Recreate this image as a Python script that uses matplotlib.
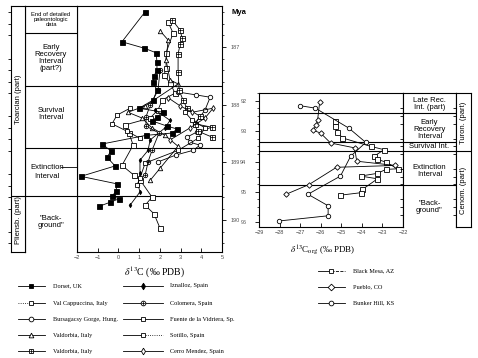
# Carbon isotope curves across two extinction events (Toarcian / Cenomanian-Turonian)
import numpy as np
import matplotlib
matplotlib.use('Agg')
import matplotlib.pyplot as plt
from matplotlib.ticker import MultipleLocator

plt.rcParams['font.family'] = 'Liberation Sans'
plt.rcParams['mathtext.fontset'] = 'stix'

# ---- left panel data: d13C carb (permil) vs age (Mya) ----
dorset_d13c = [1.29, 0.17, 1.24, 1.82, 1.86, 1.86, 1.72, 1.67, 1.86, 1.67, 1.00, 2.15, 1.86, 1.62,
               2.35, 2.83, 2.59, 1.33, -0.79, -0.36, -0.55, -0.16, -1.81, -0.07, -0.12, -0.30,
               0.02, -0.41, -0.94]
dorset_age = [186.39, 186.91, 187.02, 187.10, 187.26, 187.40, 187.50, 187.61, 187.75, 187.92, 188.06,
              188.13, 188.21, 188.28, 188.37, 188.42, 188.49, 188.53, 188.68, 188.80, 188.91, 189.06,
              189.24, 189.37, 189.50, 189.58, 189.63, 189.69, 189.76]

valcap_d13c = [2.40, 2.64, 2.30, 2.30, 2.20, 2.49, 2.73, 2.11, 1.91, 1.53, 0.32, 0.51, 0.71, 0.17,
               0.75, 1.04, 1.62, 1.29, 1.72, 2.01]
valcap_age = [186.57, 186.76, 187.10, 187.36, 187.49, 187.62, 187.80, 187.92, 188.09, 188.23, 188.35,
              188.49, 188.70, 189.05, 189.22, 189.30, 189.60, 189.74, 189.89, 190.14]

bursa_d13c = [2.88, 3.75, 4.43, 4.18, 3.94, 3.70, 3.80, 3.31, 3.46, 3.94, 3.60, 2.78, 1.91]
bursa_age = [187.78, 187.83, 187.87, 188.09, 188.21, 188.32, 188.47, 188.56, 188.65, 188.70, 188.79,
             188.87, 188.99]

valdtri_d13c = [2.01, 2.40, 2.30, 2.49, 2.88, 1.29, 0.46, 1.14, 1.62, 2.25, 2.88, 2.01, 1.53]
valdtri_age = [186.72, 186.88, 187.23, 187.57, 187.64, 188.02, 188.13, 188.23, 188.40, 188.53, 188.72,
               189.10, 189.31]

valdsq_d13c = [2.59, 2.98, 3.07, 2.98, 2.88, 2.88, 2.93, 3.12, 3.31, 3.94, 3.70, 4.52, 3.85, 4.52]
valdsq_age = [186.53, 186.71, 186.84, 186.95, 187.12, 187.43, 187.75, 187.92, 188.06, 188.20, 188.33,
              188.39, 188.46, 188.56]

iznal_d13c = [1.77, 2.49, 2.25, 1.53, 1.43, 1.04, 1.04, 0.95, 1.04, 0.56]
iznal_age = [188.09, 188.27, 188.40, 188.61, 188.79, 188.96, 189.18, 189.39, 189.51, 189.74]

colom_d13c = [2.01, 1.91, 1.53, 1.33, 1.33, 1.96, 1.62, 1.43, 1.29]
colom_age = [187.40, 187.75, 188.01, 188.21, 188.37, 188.49, 188.79, 188.99, 189.22]

fuente_d13c = [3.22, 3.56, 4.18, 3.85, 2.88, 1.29, 1.04, 0.90]
fuente_age = [188.13, 188.27, 188.40, 188.58, 188.79, 189.01, 189.27, 189.39]

sotillo_d13c = [0.56, -0.07, -0.31, 0.42, 1.04]
sotillo_age = [188.06, 188.18, 188.33, 188.46, 188.58]

cerro_d13c = [2.40, 2.98, 3.56, 4.57, 4.18, 3.46, 2.49]
cerro_age = [187.88, 188.02, 188.13, 188.06, 188.23, 188.40, 188.61]

# ---- right panel data: d13C org vs age ----
mesa_d13c = [-25.31, -25.31, -25.20, -24.95, -23.57, -22.92, -23.41, -23.24, -22.83, -22.26, -22.83,
             -23.24, -24.06, -23.24, -23.97, -24.06, -25.04]
mesa_age = [92.68, 92.84, 93.01, 93.22, 93.50, 93.61, 93.83, 93.93, 94.02, 94.24, 94.26, 94.39, 94.48,
            94.57, 94.92, 95.03, 95.11]

pueblo_d13c = [-26.05, -26.15, -26.21, -26.37, -26.01, -25.52, -24.35, -24.25, -22.38, -25.23,
               -26.57, -27.68]
pueblo_age = [92.04, 92.62, 92.79, 92.97, 93.06, 93.39, 93.55, 93.99, 94.13, 94.19, 94.76, 95.08]

bunker_d13c = [-26.99, -26.26, -24.63, -23.81, -24.55, -25.04, -26.62, -25.64, -25.64, -28.01]
bunker_age = [92.16, 92.24, 92.90, 93.37, 93.83, 94.48, 95.08, 95.46, 95.79, 95.96]

# interval boundaries (Mya)
left_bounds = [186.76, 187.68, 188.75, 189.58]
right_bounds = [92.39, 93.34, 93.64, 94.79]

W, H = 478, 358
fig = plt.figure(figsize=(W / 100, H / 100), dpi=100)


def px_axes(x0, y0, x1, y1, **kw):
    return fig.add_axes([x0 / W, 1 - y1 / H, (x1 - x0) / W, (y1 - y0) / H], **kw)


def draw_series(ax, xs, ys, marker, mfc='white', cross=False, ms=3.6, ls='-'):
    ax.plot(xs, ys, color='black', lw=0.6, ls=ls, marker=marker, ms=ms, mfc=mfc,
            mec='black', mew=0.6, zorder=3)
    if cross:
        ax.plot(xs, ys, ls='none', marker='+', ms=ms, color='black', mew=0.5, zorder=4)


def strip_axes(ax):
    ax.set_xticks([])
    ax.tick_params(left=False, right=False, labelleft=False, labelright=False)
    for s in ax.spines.values():
        s.set_linewidth(0.8)


lab_kw = dict(ha='center', va='center', fontsize=5.5, linespacing=1.05)

# ================= LEFT PANEL =================
axL = px_axes(77, 6, 222, 252)
axL.set_xlim(-2, 5)
axL.set_ylim(190.55, 186.29)
draw_series(axL, valcap_d13c, valcap_age, 's')
draw_series(axL, bursa_d13c, bursa_age, 'o', ms=3.2)
draw_series(axL, valdtri_d13c, valdtri_age, '^', ms=3.2)
draw_series(axL, valdsq_d13c, valdsq_age, 's', cross=True)
draw_series(axL, iznal_d13c, iznal_age, 'd', mfc='black', ms=2.2)
draw_series(axL, colom_d13c, colom_age, 'o', cross=True, ms=3.2)
draw_series(axL, fuente_d13c, fuente_age, 's', ms=3.2)
draw_series(axL, sotillo_d13c, sotillo_age, 's', ms=3.2)
draw_series(axL, cerro_d13c, cerro_age, 'd', ms=3.0)
draw_series(axL, dorset_d13c, dorset_age, 's', mfc='black')
for b in left_bounds[1:]:
    axL.axhline(b, color='black', lw=0.8, zorder=2)
axL.set_xticks(range(-2, 6))
axL.tick_params(axis='x', direction='in', length=3, width=0.6, labelsize=4, pad=2,
                labelcolor='#444')
axL.yaxis.tick_right()
axL.set_yticks([187, 188, 189, 190])
axL.yaxis.set_minor_locator(MultipleLocator(0.2))
axL.tick_params(axis='y', which='major', direction='out', length=3, width=0.6, labelsize=4,
                labelcolor='#555', pad=3)
axL.tick_params(axis='y', which='minor', direction='out', length=1.5, width=0.5)
for s in axL.spines.values():
    s.set_linewidth(0.8)

# label column
labL = px_axes(25, 6, 77, 252, sharey=axL)
strip_axes(labL)
labL.spines['bottom'].set_visible(False)
tr = labL.get_yaxis_transform()
for b in left_bounds:
    labL.axhline(b, color='black', lw=0.8)
labL.text(0.5, 186.53, 'End of detailed\npaleontologic\ndata', transform=tr, ha='center',
          va='center', fontsize=4.2, linespacing=1.0)
labL.text(0.5, 187.19, 'Early\nRecovery\nInterval\n(part?)', transform=tr, **lab_kw)
labL.text(0.5, 188.16, 'Survival\nInterval', transform=tr, **lab_kw)
labL.text(0.43, 189.08, 'Extinction', transform=tr, **lab_kw)
labL.text(0.43, 189.24, 'Interval', transform=tr, **lab_kw)
labL.plot([0.70, 1.0], [189.08, 189.08], transform=tr, color='black', lw=0.6)
labL.text(0.5, 190.03, '"Back-\nground"', transform=tr, **lab_kw)

# stratigraphic column
strL = px_axes(11, 6, 25, 252, sharey=axL)
strip_axes(strL)
strL.axhline(left_bounds[3], color='black', lw=0.8)
trs = strL.get_yaxis_transform()
strL.text(0.5, 187.90, 'Toarcian (part)', transform=trs, rotation=90, ha='center', va='center',
          fontsize=5.5)
strL.text(0.5, 190.00, 'Pliensb. (part)', transform=trs, rotation=90, ha='center', va='center',
          fontsize=5.5)

# ================= RIGHT PANEL =================
axR = px_axes(259, 93, 403, 227)
axR.set_xlim(-29, -22)
axR.set_ylim(96.16, 91.74)
draw_series(axR, mesa_d13c, mesa_age, 's')
draw_series(axR, pueblo_d13c, pueblo_age, 'D', ms=2.8)
draw_series(axR, bunker_d13c, bunker_age, 'o', ms=3.2)
for b in right_bounds:
    axR.axhline(b, color='black', lw=0.8, zorder=2)
axR.set_xticks(range(-29, -21))
axR.tick_params(axis='x', direction='in', length=3, width=0.6, labelsize=4, pad=2,
                labelcolor='#444')
axR.set_yticks([92, 93, 94, 95, 96])
axR.yaxis.set_minor_locator(MultipleLocator(0.25))
axR.tick_params(axis='y', which='major', direction='out', length=3, width=0.6, labelsize=4,
                labelcolor='#555', pad=6)
axR.tick_params(axis='y', which='minor', direction='out', length=1.5, width=0.5)
for s in axR.spines.values():
    s.set_linewidth(0.8)

labR = px_axes(403, 93, 456, 227, sharey=axR)
strip_axes(labR)
labR.spines['bottom'].set_visible(False)
trr = labR.get_yaxis_transform()
for b in right_bounds:
    labR.axhline(b, color='black', lw=0.8)
labR.text(0.5, 92.11, 'Late Rec.\nInt. (part)', transform=trr, **lab_kw)
labR.text(0.5, 92.95, 'Early\nRecovery\nInterval', transform=trr, **lab_kw)
labR.text(0.5, 93.50, 'Survival Int.', transform=trr, **lab_kw)
labR.text(0.5, 94.31, 'Extinction\nInterval', transform=trr, **lab_kw)
labR.text(0.5, 95.49, '"Back-\nground"', transform=trr, **lab_kw)

strR = px_axes(456, 93, 471, 227, sharey=axR)
strip_axes(strR)
strR.axhline(right_bounds[2], color='black', lw=0.8)
trs2 = strR.get_yaxis_transform()
strR.text(0.5, 92.72, 'Turon. (part)', transform=trs2, rotation=90, ha='center', va='center',
          fontsize=5.5)
strR.text(0.5, 94.95, 'Cenom. (part)', transform=trs2, rotation=90, ha='center', va='center',
          fontsize=5.5)

# ================= overlay: labels and legend =================
ov = fig.add_axes([0, 0, 1, 1], zorder=-1)
ov.set_xlim(0, W)
ov.set_ylim(H, 0)
ov.axis('off')
ov.text(232, 12, 'Mya', fontsize=5.5, fontweight='bold', ha='left', va='center')
ov.text(155, 272, r'$\delta^{13}$C (‰ PDB)', fontsize=7, family='Liberation Serif',
        ha='center', va='center')
ov.text(323, 250, r'$\delta^{13}$C$_{\rm org}$ (‰ PDB)', fontsize=6.5, family='Liberation Serif',
        ha='center', va='center')

legend_items = [
    # (label, marker, facecolor, crossed, left style, right style, column, row)
    ('Dorset, UK', 's', 'black', False, '-', '-', 0, 0),
    ('Val Cappuccina, Italy', 's', 'white', False, ':', '-', 0, 1),
    ('Bursagacsy Gorge, Hung.', 'o', 'white', False, '-', '-', 0, 2),
    ('Valdorbia, Italy', '^', 'white', False, '-', '-', 0, 3),
    ('Valdorbia, Italy', 's', 'white', True, '-', '-', 0, 4),
    ('Iznalloz, Spain', 'd', 'black', False, '-', '-', 1, 0),
    ('Colomera, Spain', 'o', 'white', True, '-', '-', 1, 1),
    ('Fuente de la Vidriera, Sp.', 's', 'white', False, '-', '-', 1, 2),
    ('Sotillo, Spain', 's', 'white', False, '-', ':', 1, 3),
    ('Cerro Mendez, Spain', 'd', 'white', False, '-', '-', 1, 4),
    ('Black Mesa, AZ', 's', 'white', False, '-', '--', 2, 0),
    ('Pueblo, CO', 'D', 'white', False, '-', '-', 2, 1),
    ('Bunker Hill, KS', 'o', 'white', False, '-', '-', 2, 2),
]
col_x = [(18, 45, 53), (123, 163, 170), (318, 345, 353)]
row_y = {0: [286, 303, 319, 335, 351], 1: [286, 303, 319, 335, 351], 2: [271, 287, 303]}
for label, mk, fc, cross, lls, rls, c, r in legend_items:
    x0, x1, xt = col_x[c]
    y = row_y[c][r]
    xm = (x0 + x1) / 2
    ov.plot([x0, xm], [y, y], color='black', lw=0.6, ls=lls)
    ov.plot([xm, x1], [y, y], color='black', lw=0.6, ls=rls)
    ov.plot([xm], [y], marker=mk, ms=3.4, mfc=fc, mec='black', mew=0.6, color='black')
    if cross:
        ov.plot([xm], [y], marker='+', ms=3.4, color='black', mew=0.5)
    ov.text(xt, y, label, fontsize=4.5, family='Liberation Serif', ha='left', va='center')

fig.savefig('out.png', dpi=100)
plt.close()
print("saved out.png")
